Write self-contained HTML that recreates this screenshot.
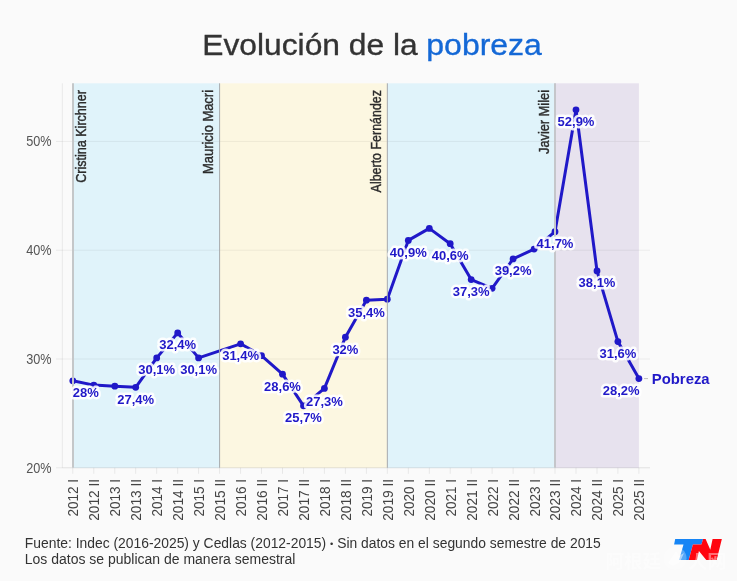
<!DOCTYPE html>
<html lang="es"><head><meta charset="utf-8"><title>Evolución de la pobreza</title>
<style>
html,body{margin:0;padding:0;background:#fafafa;}
body{width:737px;height:581px;overflow:hidden;font-family:"Liberation Sans","Noto Sans CJK SC",sans-serif;}
svg{display:block}
text{font-family:"Liberation Sans",sans-serif}
.yl{font-size:14px;fill:#555;text-anchor:end}
.xl{font-size:14.8px;fill:#444;text-anchor:end}
.pl{font-size:14.2px;fill:#2c2c2c;stroke:#2c2c2c;stroke-width:.4px;text-anchor:end}
.vl{font-size:13px;font-weight:bold;fill:#2018c8;text-anchor:middle;stroke:#fff;stroke-width:5px;stroke-linejoin:round;paint-order:stroke fill;stroke-opacity:.88}
.ft{font-size:14px;fill:#333}
.wm{font-family:"Liberation Sans","Noto Sans CJK SC",sans-serif;font-size:18px;font-weight:bold}
</style></head><body>
<svg width="737" height="581" viewBox="0 0 737 581">
<rect width="737" height="581" fill="#fafafa"/>
<text x="202.3" y="55.2" font-size="30" fill="#333" stroke="#333" stroke-width="0.35" textLength="215.3" lengthAdjust="spacingAndGlyphs">Evolución de la</text>
<text x="426.3" y="55.2" font-size="30" fill="#1468d6" stroke="#1468d6" stroke-width="0.35" textLength="115.6" lengthAdjust="spacingAndGlyphs">pobreza</text>
<rect x="72.8" y="83.3" width="146.8" height="384.5" fill="#e0f3fa"/>
<rect x="219.6" y="83.3" width="167.7" height="384.5" fill="#fcf7e1"/>
<rect x="387.3" y="83.3" width="167.7" height="384.5" fill="#e0f3fa"/>
<rect x="555.0" y="83.3" width="83.9" height="384.5" fill="#e7e2ee"/>
<line x1="62.3" x2="650" y1="467.8" y2="467.8" stroke="#000" stroke-opacity="0.1" stroke-width="1"/>
<line x1="56" x2="62.3" y1="467.8" y2="467.8" stroke="#000" stroke-opacity="0.07" stroke-width="1"/>
<text class="yl" x="51.6" y="472.8" textLength="25.4" lengthAdjust="spacingAndGlyphs">20%</text>
<line x1="62.3" x2="650" y1="359.0" y2="359.0" stroke="#000" stroke-opacity="0.06" stroke-width="1"/>
<line x1="56" x2="62.3" y1="359.0" y2="359.0" stroke="#000" stroke-opacity="0.07" stroke-width="1"/>
<text class="yl" x="51.6" y="364.0" textLength="25.4" lengthAdjust="spacingAndGlyphs">30%</text>
<line x1="62.3" x2="650" y1="250.2" y2="250.2" stroke="#000" stroke-opacity="0.06" stroke-width="1"/>
<line x1="56" x2="62.3" y1="250.2" y2="250.2" stroke="#000" stroke-opacity="0.07" stroke-width="1"/>
<text class="yl" x="51.6" y="255.2" textLength="25.4" lengthAdjust="spacingAndGlyphs">40%</text>
<line x1="62.3" x2="650" y1="141.4" y2="141.4" stroke="#000" stroke-opacity="0.06" stroke-width="1"/>
<line x1="56" x2="62.3" y1="141.4" y2="141.4" stroke="#000" stroke-opacity="0.07" stroke-width="1"/>
<text class="yl" x="51.6" y="146.4" textLength="25.4" lengthAdjust="spacingAndGlyphs">50%</text>
<line x1="62.3" x2="62.3" y1="83.3" y2="467.8" stroke="#000" stroke-opacity="0.07"/>
<line x1="72.8" x2="72.8" y1="467.8" y2="473.8" stroke="#000" stroke-opacity="0.075"/>
<text class="xl" transform="translate(78.2,479) rotate(-90)" textLength="37.6" lengthAdjust="spacingAndGlyphs">2012 I</text>
<line x1="93.8" x2="93.8" y1="467.8" y2="473.8" stroke="#000" stroke-opacity="0.075"/>
<text class="xl" transform="translate(99.2,479) rotate(-90)" textLength="41.8" lengthAdjust="spacingAndGlyphs">2012 II</text>
<line x1="114.8" x2="114.8" y1="467.8" y2="473.8" stroke="#000" stroke-opacity="0.075"/>
<text class="xl" transform="translate(120.2,479) rotate(-90)" textLength="37.6" lengthAdjust="spacingAndGlyphs">2013 I</text>
<line x1="135.7" x2="135.7" y1="467.8" y2="473.8" stroke="#000" stroke-opacity="0.075"/>
<text class="xl" transform="translate(141.1,479) rotate(-90)" textLength="41.8" lengthAdjust="spacingAndGlyphs">2013 II</text>
<line x1="156.7" x2="156.7" y1="467.8" y2="473.8" stroke="#000" stroke-opacity="0.075"/>
<text class="xl" transform="translate(162.1,479) rotate(-90)" textLength="37.6" lengthAdjust="spacingAndGlyphs">2014 I</text>
<line x1="177.7" x2="177.7" y1="467.8" y2="473.8" stroke="#000" stroke-opacity="0.075"/>
<text class="xl" transform="translate(183.1,479) rotate(-90)" textLength="41.8" lengthAdjust="spacingAndGlyphs">2014 II</text>
<line x1="198.6" x2="198.6" y1="467.8" y2="473.8" stroke="#000" stroke-opacity="0.075"/>
<text class="xl" transform="translate(204.0,479) rotate(-90)" textLength="37.6" lengthAdjust="spacingAndGlyphs">2015 I</text>
<line x1="219.6" x2="219.6" y1="467.8" y2="473.8" stroke="#000" stroke-opacity="0.075"/>
<text class="xl" transform="translate(225.0,479) rotate(-90)" textLength="41.8" lengthAdjust="spacingAndGlyphs">2015 II</text>
<line x1="240.6" x2="240.6" y1="467.8" y2="473.8" stroke="#000" stroke-opacity="0.075"/>
<text class="xl" transform="translate(246.0,479) rotate(-90)" textLength="37.6" lengthAdjust="spacingAndGlyphs">2016 I</text>
<line x1="261.5" x2="261.5" y1="467.8" y2="473.8" stroke="#000" stroke-opacity="0.075"/>
<text class="xl" transform="translate(266.9,479) rotate(-90)" textLength="41.8" lengthAdjust="spacingAndGlyphs">2016 II</text>
<line x1="282.5" x2="282.5" y1="467.8" y2="473.8" stroke="#000" stroke-opacity="0.075"/>
<text class="xl" transform="translate(287.9,479) rotate(-90)" textLength="37.6" lengthAdjust="spacingAndGlyphs">2017 I</text>
<line x1="303.5" x2="303.5" y1="467.8" y2="473.8" stroke="#000" stroke-opacity="0.075"/>
<text class="xl" transform="translate(308.9,479) rotate(-90)" textLength="41.8" lengthAdjust="spacingAndGlyphs">2017 II</text>
<line x1="324.4" x2="324.4" y1="467.8" y2="473.8" stroke="#000" stroke-opacity="0.075"/>
<text class="xl" transform="translate(329.8,479) rotate(-90)" textLength="37.6" lengthAdjust="spacingAndGlyphs">2018 I</text>
<line x1="345.4" x2="345.4" y1="467.8" y2="473.8" stroke="#000" stroke-opacity="0.075"/>
<text class="xl" transform="translate(350.8,479) rotate(-90)" textLength="41.8" lengthAdjust="spacingAndGlyphs">2018 II</text>
<line x1="366.4" x2="366.4" y1="467.8" y2="473.8" stroke="#000" stroke-opacity="0.075"/>
<text class="xl" transform="translate(371.8,479) rotate(-90)" textLength="37.6" lengthAdjust="spacingAndGlyphs">2019 I</text>
<line x1="387.3" x2="387.3" y1="467.8" y2="473.8" stroke="#000" stroke-opacity="0.075"/>
<text class="xl" transform="translate(392.7,479) rotate(-90)" textLength="41.8" lengthAdjust="spacingAndGlyphs">2019 II</text>
<line x1="408.3" x2="408.3" y1="467.8" y2="473.8" stroke="#000" stroke-opacity="0.075"/>
<text class="xl" transform="translate(413.7,479) rotate(-90)" textLength="37.6" lengthAdjust="spacingAndGlyphs">2020 I</text>
<line x1="429.3" x2="429.3" y1="467.8" y2="473.8" stroke="#000" stroke-opacity="0.075"/>
<text class="xl" transform="translate(434.7,479) rotate(-90)" textLength="41.8" lengthAdjust="spacingAndGlyphs">2020 II</text>
<line x1="450.2" x2="450.2" y1="467.8" y2="473.8" stroke="#000" stroke-opacity="0.075"/>
<text class="xl" transform="translate(455.6,479) rotate(-90)" textLength="37.6" lengthAdjust="spacingAndGlyphs">2021 I</text>
<line x1="471.2" x2="471.2" y1="467.8" y2="473.8" stroke="#000" stroke-opacity="0.075"/>
<text class="xl" transform="translate(476.6,479) rotate(-90)" textLength="41.8" lengthAdjust="spacingAndGlyphs">2021 II</text>
<line x1="492.1" x2="492.1" y1="467.8" y2="473.8" stroke="#000" stroke-opacity="0.075"/>
<text class="xl" transform="translate(497.5,479) rotate(-90)" textLength="37.6" lengthAdjust="spacingAndGlyphs">2022 I</text>
<line x1="513.1" x2="513.1" y1="467.8" y2="473.8" stroke="#000" stroke-opacity="0.075"/>
<text class="xl" transform="translate(518.5,479) rotate(-90)" textLength="41.8" lengthAdjust="spacingAndGlyphs">2022 II</text>
<line x1="534.1" x2="534.1" y1="467.8" y2="473.8" stroke="#000" stroke-opacity="0.075"/>
<text class="xl" transform="translate(539.5,479) rotate(-90)" textLength="37.6" lengthAdjust="spacingAndGlyphs">2023 I</text>
<line x1="555.0" x2="555.0" y1="467.8" y2="473.8" stroke="#000" stroke-opacity="0.075"/>
<text class="xl" transform="translate(560.4,479) rotate(-90)" textLength="41.8" lengthAdjust="spacingAndGlyphs">2023 II</text>
<line x1="576.0" x2="576.0" y1="467.8" y2="473.8" stroke="#000" stroke-opacity="0.075"/>
<text class="xl" transform="translate(581.4,479) rotate(-90)" textLength="37.6" lengthAdjust="spacingAndGlyphs">2024 I</text>
<line x1="597.0" x2="597.0" y1="467.8" y2="473.8" stroke="#000" stroke-opacity="0.075"/>
<text class="xl" transform="translate(602.4,479) rotate(-90)" textLength="41.8" lengthAdjust="spacingAndGlyphs">2024 II</text>
<line x1="617.9" x2="617.9" y1="467.8" y2="473.8" stroke="#000" stroke-opacity="0.075"/>
<text class="xl" transform="translate(623.3,479) rotate(-90)" textLength="37.6" lengthAdjust="spacingAndGlyphs">2025 I</text>
<line x1="638.9" x2="638.9" y1="467.8" y2="473.8" stroke="#000" stroke-opacity="0.075"/>
<text class="xl" transform="translate(644.3,479) rotate(-90)" textLength="41.8" lengthAdjust="spacingAndGlyphs">2025 II</text>
<path d="M72.8,380.8 L93.8,385.1 L114.8,386.2 L135.7,387.3 L156.7,357.9 L177.7,332.9 L198.6,357.9 L240.6,343.8 L261.5,355.7 L282.5,374.2 L303.5,405.8 L324.4,388.4 L345.4,337.2 L366.4,300.2 L387.3,299.2 L408.3,240.4 L429.3,228.4 L450.2,243.7 L471.2,279.6 L492.1,288.3 L513.1,258.9 L534.1,249.1 L555.0,231.7 L576.0,109.8 L597.0,270.9 L617.9,341.6 L638.9,378.6" fill="none" stroke="#2018c8" stroke-width="3" stroke-linejoin="round" stroke-linecap="round"/>
<circle cx="72.8" cy="380.8" r="3.4" fill="#2018c8"/>
<circle cx="93.8" cy="385.1" r="3.4" fill="#2018c8"/>
<circle cx="114.8" cy="386.2" r="3.4" fill="#2018c8"/>
<circle cx="135.7" cy="387.3" r="3.4" fill="#2018c8"/>
<circle cx="156.7" cy="357.9" r="3.4" fill="#2018c8"/>
<circle cx="177.7" cy="332.9" r="3.4" fill="#2018c8"/>
<circle cx="198.6" cy="357.9" r="3.4" fill="#2018c8"/>
<circle cx="240.6" cy="343.8" r="3.4" fill="#2018c8"/>
<circle cx="261.5" cy="355.7" r="3.4" fill="#2018c8"/>
<circle cx="282.5" cy="374.2" r="3.4" fill="#2018c8"/>
<circle cx="303.5" cy="405.8" r="3.4" fill="#2018c8"/>
<circle cx="324.4" cy="388.4" r="3.4" fill="#2018c8"/>
<circle cx="345.4" cy="337.2" r="3.4" fill="#2018c8"/>
<circle cx="366.4" cy="300.2" r="3.4" fill="#2018c8"/>
<circle cx="387.3" cy="299.2" r="3.4" fill="#2018c8"/>
<circle cx="408.3" cy="240.4" r="3.4" fill="#2018c8"/>
<circle cx="429.3" cy="228.4" r="3.4" fill="#2018c8"/>
<circle cx="450.2" cy="243.7" r="3.4" fill="#2018c8"/>
<circle cx="471.2" cy="279.6" r="3.4" fill="#2018c8"/>
<circle cx="492.1" cy="288.3" r="3.4" fill="#2018c8"/>
<circle cx="513.1" cy="258.9" r="3.4" fill="#2018c8"/>
<circle cx="534.1" cy="249.1" r="3.4" fill="#2018c8"/>
<circle cx="555.0" cy="231.7" r="3.4" fill="#2018c8"/>
<circle cx="576.0" cy="109.8" r="3.4" fill="#2018c8"/>
<circle cx="597.0" cy="270.9" r="3.4" fill="#2018c8"/>
<circle cx="617.9" cy="341.6" r="3.4" fill="#2018c8"/>
<circle cx="638.9" cy="378.6" r="3.4" fill="#2018c8"/>
<line x1="73" x2="73" y1="83.3" y2="467.8" stroke="#c4c7c9" stroke-width="2"/>
<text class="pl" transform="translate(85.8,90) rotate(-90)" textLength="92.8" lengthAdjust="spacingAndGlyphs">Cristina Kirchner</text>
<line x1="219.60" x2="219.60" y1="83.3" y2="467.8" stroke="#a6a9ad" stroke-width="1"/>
<text class="pl" transform="translate(213.4,90) rotate(-90)" textLength="84.0" lengthAdjust="spacingAndGlyphs">Mauricio Macri</text>
<line x1="387.33" x2="387.33" y1="83.3" y2="467.8" stroke="#a6a9ad" stroke-width="1"/>
<text class="pl" transform="translate(380.8,90) rotate(-90)" textLength="102.4" lengthAdjust="spacingAndGlyphs">Alberto Fernández</text>
<line x1="555" x2="555" y1="83.3" y2="467.8" stroke="#c5c6ca" stroke-width="2"/>
<text class="pl" transform="translate(548.7,90) rotate(-90)" textLength="64.0" lengthAdjust="spacingAndGlyphs">Javier Milei</text>
<text class="vl" x="85.8" y="396.8">28%</text>
<text class="vl" x="135.7" y="404.3">27,4%</text>
<text class="vl" x="156.7" y="373.6">30,1%</text>
<text class="vl" x="177.7" y="349.4">32,4%</text>
<text class="vl" x="198.6" y="374.2">30,1%</text>
<text class="vl" x="240.6" y="360.0">31,4%</text>
<text class="vl" x="282.5" y="390.7">28,6%</text>
<text class="vl" x="324.4" y="405.5">27,3%</text>
<text class="vl" x="303.5" y="421.8">25,7%</text>
<text class="vl" x="345.4" y="354.2">32%</text>
<text class="vl" x="366.4" y="316.7">35,4%</text>
<text class="vl" x="408.3" y="257.4">40,9%</text>
<text class="vl" x="450.2" y="259.9">40,6%</text>
<text class="vl" x="471.2" y="296.2">37,3%</text>
<text class="vl" x="513.1" y="275.0">39,2%</text>
<text class="vl" x="555.0" y="248.2">41,7%</text>
<text class="vl" x="576.0" y="125.9">52,9%</text>
<text class="vl" x="597.0" y="286.9">38,1%</text>
<text class="vl" x="617.9" y="358.3">31,6%</text>
<text class="vl" x="621.2" y="394.6">28,2%</text>
<line x1="644" x2="648" y1="378.6" y2="378.6" stroke="#bbb" stroke-width="1"/>
<text x="651.8" y="383.6" font-size="14" font-weight="bold" fill="#2018c8" textLength="57.8" lengthAdjust="spacingAndGlyphs">Pobreza</text>
<text class="ft" x="24.8" y="548.3" textLength="576" lengthAdjust="spacingAndGlyphs">Fuente: Indec (2016-2025) y Cedlas (2012-2015) <tspan font-size="9.5" dy="-1.6">•</tspan><tspan dy="1.6"> Sin datos en el segundo semestre de 2015</tspan></text>
<text class="ft" x="24.8" y="564" textLength="270.6" lengthAdjust="spacingAndGlyphs">Los datos se publican de manera semestral</text>
<g id="logo">
<path d="M675.2,539 L703.1,539 L701.4,544.6 L692.9,544.6 L688.7,560 L679.1,560 L683.5,544.6 L674.1,544.6 Z" fill="#1685f5"/>
<path d="M692.9,544.6 L701.4,544.6 L703.1,539 L705.6,539 L710.3,549.8 L712.6,539 L721.85,539 L716.7,560 L706.3,560 L698.9,551 L697,560 L688.7,560 Z" fill="#ff050f"/>
</g>
<g id="wm" fill="#fff" fill-opacity="0.42">
<text class="wm" x="605.5" y="568" textLength="55.5" lengthAdjust="spacingAndGlyphs">阿根廷</text>
<circle cx="675" cy="558.2" r="11.5" fill-opacity="0.28"/>
<path d="M668,563 L676,551 L679,556 L684,553 L680,562 L673,566 Z" fill-opacity="0.5"/>
<text class="wm" x="688" y="568" textLength="38.5" lengthAdjust="spacingAndGlyphs">人网</text>
</g>
</svg></body></html>
